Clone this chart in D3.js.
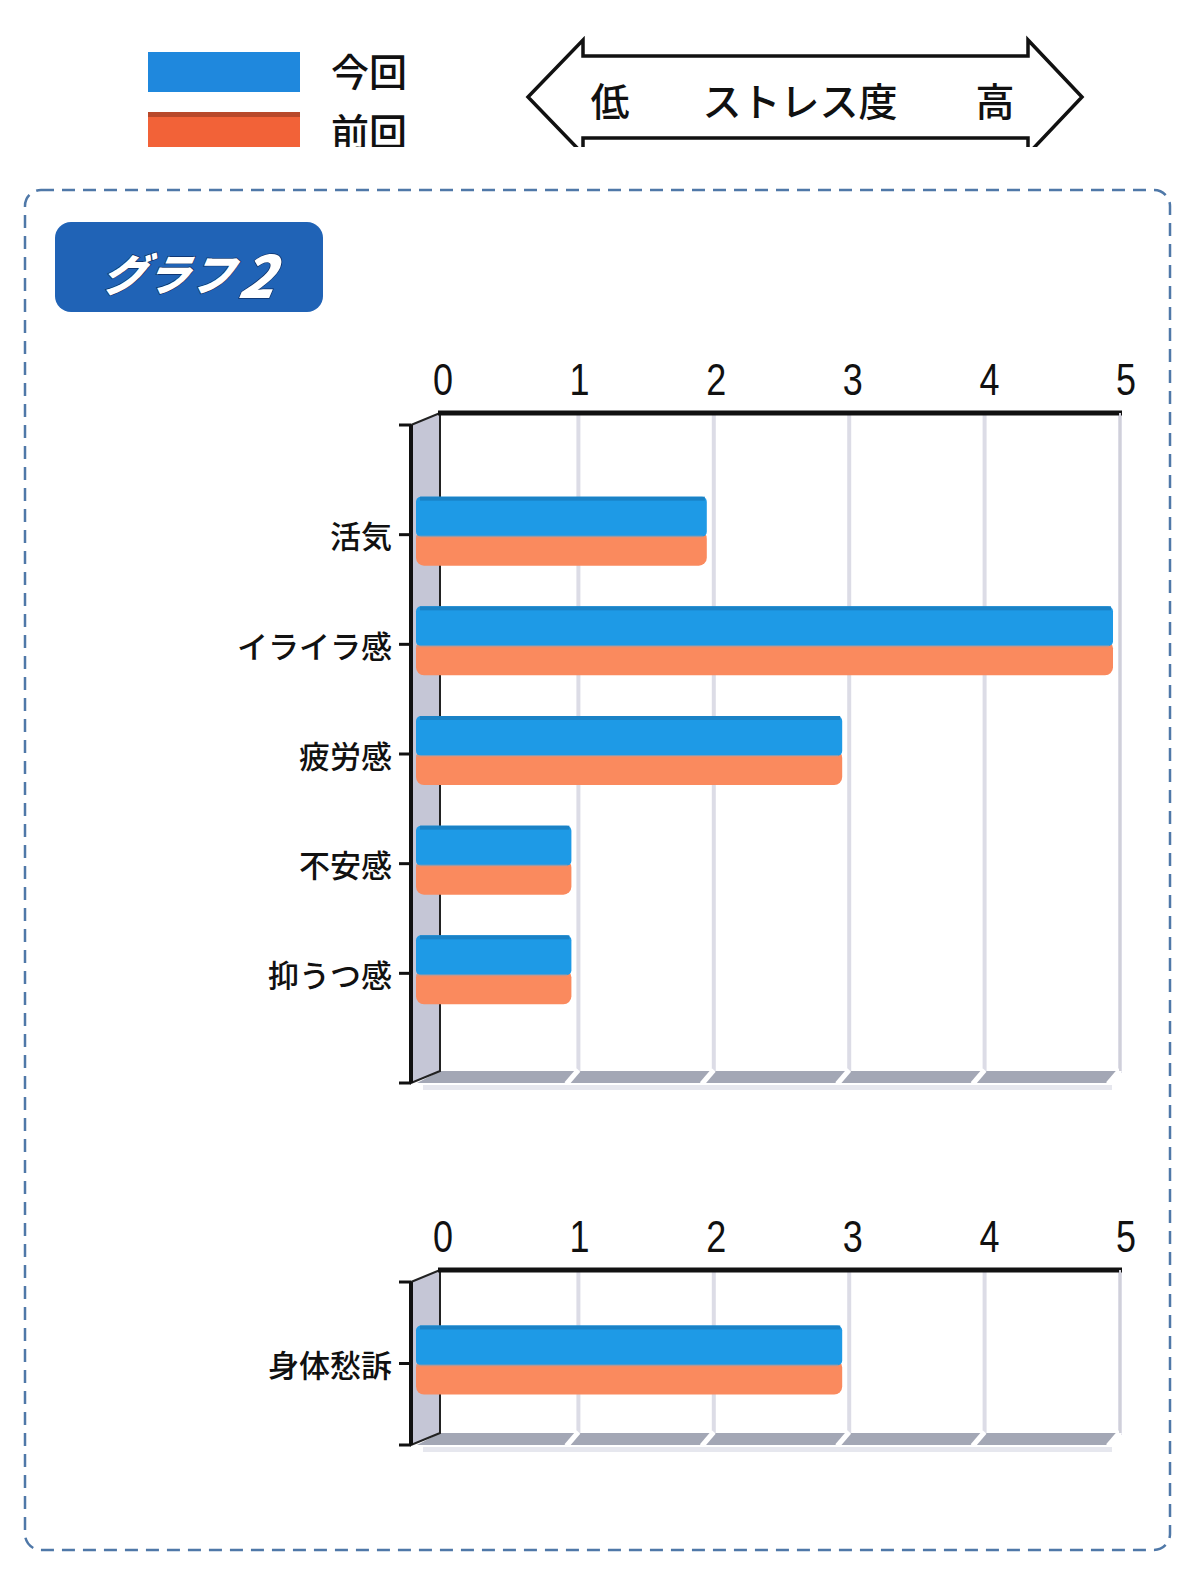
<!DOCTYPE html>
<html>
<head>
<meta charset="utf-8">
<script src="https://cdn.jsdelivr.net/npm/d3@7"></script>
<style>
  body { margin: 0; background: #fff; }
  svg { display: block; }
</style>
</head>
<body>
<svg width="1200" height="1579"></svg>
<script>
"use strict";

// scores 0-5, higher = more stress
const categories = ["活気", "イライラ感", "疲労感", "不安感", "抑うつ感"];
const currentScores = [2, 5, 3, 1, 1];   // 今回
const previousScores = [2, 5, 3, 1, 1];  // 前回

const categories2 = ["身体愁訴"];
const currentScores2 = [3];
const previousScores2 = [3];

const tickValues = [0, 1, 2, 3, 4, 5];
const seriesNames = ["今回", "前回"];

const BLUE = "#1e9ae6", ORANGE = "#fa8a5e";
const CJK = "'Noto Sans CJK JP', sans-serif";

const svg = d3.select("svg");

// ---- legend + stress arrow (cut off at the bottom, like the scan) ----
svg.append("clipPath").attr("id", "topclip")
  .append("rect").attr("x", 0).attr("y", 0).attr("width", 1200).attr("height", 147);
const header = svg.append("g").attr("clip-path", "url(#topclip)");

const legendColors = ["#1f88dd", "#f26238"];
seriesNames.forEach((name, i) => {
  const y = 52 + i * 60;
  header.append("rect").attr("x", 148).attr("y", y).attr("width", 152).attr("height", 40)
    .attr("fill", legendColors[i]);
  if (i === 1) {
    header.append("rect").attr("x", 148).attr("y", y).attr("width", 152).attr("height", 5)
      .attr("fill", "#b8482a");
  }
  header.append("text").attr("x", 331).attr("y", y + 17)
    .attr("dominant-baseline", "central")
    .attr("font-family", CJK).attr("font-size", 38).attr("font-weight", 500)
    .attr("fill", "#111").text(name);
});

const arrowPts = [[528, 97], [583, 40], [583, 56], [1028, 56], [1028, 40], [1082, 97],
  [1028, 154], [1028, 138], [583, 138], [583, 154]];
header.append("path").attr("d", d3.line()(arrowPts) + "Z")
  .attr("fill", "none").attr("stroke", "#111").attr("stroke-width", 3.5)
  .attr("stroke-linejoin", "miter");
[["低", 610], ["ストレス度", 800], ["高", 995]].forEach(([t, x]) => {
  header.append("text").attr("x", x).attr("y", 99).attr("text-anchor", "middle")
    .attr("dominant-baseline", "central")
    .attr("font-family", CJK).attr("font-size", 39).attr("font-weight", 500)
    .attr("fill", "#111").text(t);
});

// ---- dashed frame + badge ----
svg.append("rect").attr("x", 25).attr("y", 190).attr("width", 1145).attr("height", 1360)
  .attr("rx", 16).attr("fill", "none").attr("stroke", "#4f78a8")
  .attr("stroke-width", 2.5).attr("stroke-dasharray", "13 8");

svg.append("rect").attr("x", 55).attr("y", 222).attr("width", 268).attr("height", 90)
  .attr("rx", 16).attr("fill", "#2063b6");
const badge = svg.append("text").attr("x", 190).attr("y", 272)
  .attr("text-anchor", "middle").attr("dominant-baseline", "central")
  .attr("font-family", CJK).attr("font-weight", 900).attr("font-style", "italic")
  .attr("fill", "#fff").attr("stroke", "#0c2f66").attr("stroke-width", 1.5)
  .attr("paint-order", "stroke")
  .attr("transform", "translate(48,0) skewX(-10)");
badge.append("tspan").attr("font-size", 44).text("グラフ");
badge.append("tspan").attr("font-size", 58).attr("dx", 6).text("2");

// ---- one 3D-ish horizontal bar panel ----
const x = d3.scaleLinear().domain([0, 5]).range([443, 1120]);

function drawPanel(cats, cur, prev, axisY, bottomY) {
  const g = svg.append("g");
  const frontTop = axisY + 12;
  const y = d3.scalePoint().domain(cats).range([frontTop, bottomY]).padding(1);
  const wallL = 411, wallR = 440;

  // gridlines
  g.selectAll(".grid").data(tickValues.slice(1)).join("line")
    .attr("x1", d => x(d)).attr("x2", d => x(d))
    .attr("y1", axisY).attr("y2", bottomY - 10)
    .attr("stroke", "#dcdce6").attr("stroke-width", 4);

  // floor
  g.append("path")
    .attr("d", d3.line()([[wallL + 6, bottomY], [wallR, bottomY - 12], [x(5), bottomY - 12], [x(5) - 12, bottomY]]) + "Z")
    .attr("fill", "#a3a7b5");
  g.selectAll(".floorgap").data(tickValues.slice(1)).join("line")
    .attr("x1", d => x(d)).attr("x2", d => x(d) - 12)
    .attr("y1", bottomY - 13).attr("y2", bottomY + 1)
    .attr("stroke", "#fff").attr("stroke-width", 5);
  g.append("rect").attr("x", wallL + 12).attr("y", bottomY + 2)
    .attr("width", x(5) - wallL - 20).attr("height", 5).attr("fill", "#e6e7ee");

  // side wall
  g.append("path")
    .attr("d", d3.line()([[wallL, frontTop], [wallR, axisY], [wallR, bottomY - 12], [wallL, bottomY]]) + "Z")
    .attr("fill", "#c5c6d6").attr("stroke", "#222").attr("stroke-width", 2);
  g.append("line").attr("x1", wallL).attr("x2", wallL).attr("y1", frontTop).attr("y2", bottomY)
    .attr("stroke", "#111").attr("stroke-width", 4);

  // top axis
  g.append("line").attr("x1", wallR - 2).attr("x2", x(5) + 2).attr("y1", axisY).attr("y2", axisY)
    .attr("stroke", "#111").attr("stroke-width", 5);
  g.append("line").attr("x1", x(5)).attr("x2", x(5)).attr("y1", axisY).attr("y2", bottomY - 12)
    .attr("stroke", "#d0d0da").attr("stroke-width", 2);
  g.selectAll(".tl").data(tickValues).join("text")
    .attr("transform", d => `translate(${x(d) + d * 1.2},${axisY - 18}) scale(0.9,1.1)`)
    .attr("text-anchor", "middle")
    .attr("font-family", "'Liberation Sans', Arial, sans-serif").attr("font-size", 40)
    .attr("fill", "#111").text(d => d);

  // left ticks
  g.selectAll(".yt").data([frontTop, ...cats.map(c => y(c)), bottomY]).join("line")
    .attr("x1", 399).attr("x2", wallL).attr("y1", d => d).attr("y2", d => d)
    .attr("stroke", "#111").attr("stroke-width", 3);
  g.selectAll(".yl").data(cats).join("text")
    .attr("x", 392).attr("y", d => y(d)).attr("text-anchor", "end")
    .attr("dominant-baseline", "central")
    .attr("font-family", CJK).attr("font-size", 31).attr("font-weight", 500)
    .attr("fill", "#111").text(d => d);

  // bars: drawn slightly in front (shifted left) of the back wall
  const xb = v => x(v) - 7;
  const barL = wallL + 5;
  const rows = cats.map((c, i) => ({ c, cur: cur[i], prev: prev[i] }));

  g.selectAll(".prev").data(rows).join("rect")
    .attr("x", barL).attr("y", d => y(d.c) - 4)
    .attr("width", d => xb(d.prev) - barL).attr("height", 35)
    .attr("rx", 8).attr("fill", ORANGE);
  g.selectAll(".cur").data(rows).join("rect")
    .attr("x", barL).attr("y", d => y(d.c) - 38)
    .attr("width", d => xb(d.cur) - barL).attr("height", 40)
    .attr("rx", 5).attr("fill", BLUE);
  g.selectAll(".curtop").data(rows).join("rect")
    .attr("x", barL + 4).attr("y", d => y(d.c) - 38)
    .attr("width", d => xb(d.cur) - barL - 6).attr("height", 4)
    .attr("fill", "#1a82c6");
  g.selectAll(".seam").data(rows).join("rect")
    .attr("x", barL).attr("y", d => y(d.c) + 1)
    .attr("width", d => xb(d.cur) - barL - 4).attr("height", 2)
    .attr("fill", "#c99a8c").attr("opacity", 0.6);
}

drawPanel(categories, currentScores, previousScores, 413, 1083);
drawPanel(categories2, currentScores2, previousScores2, 1270, 1445);
</script>
</body>
</html>
